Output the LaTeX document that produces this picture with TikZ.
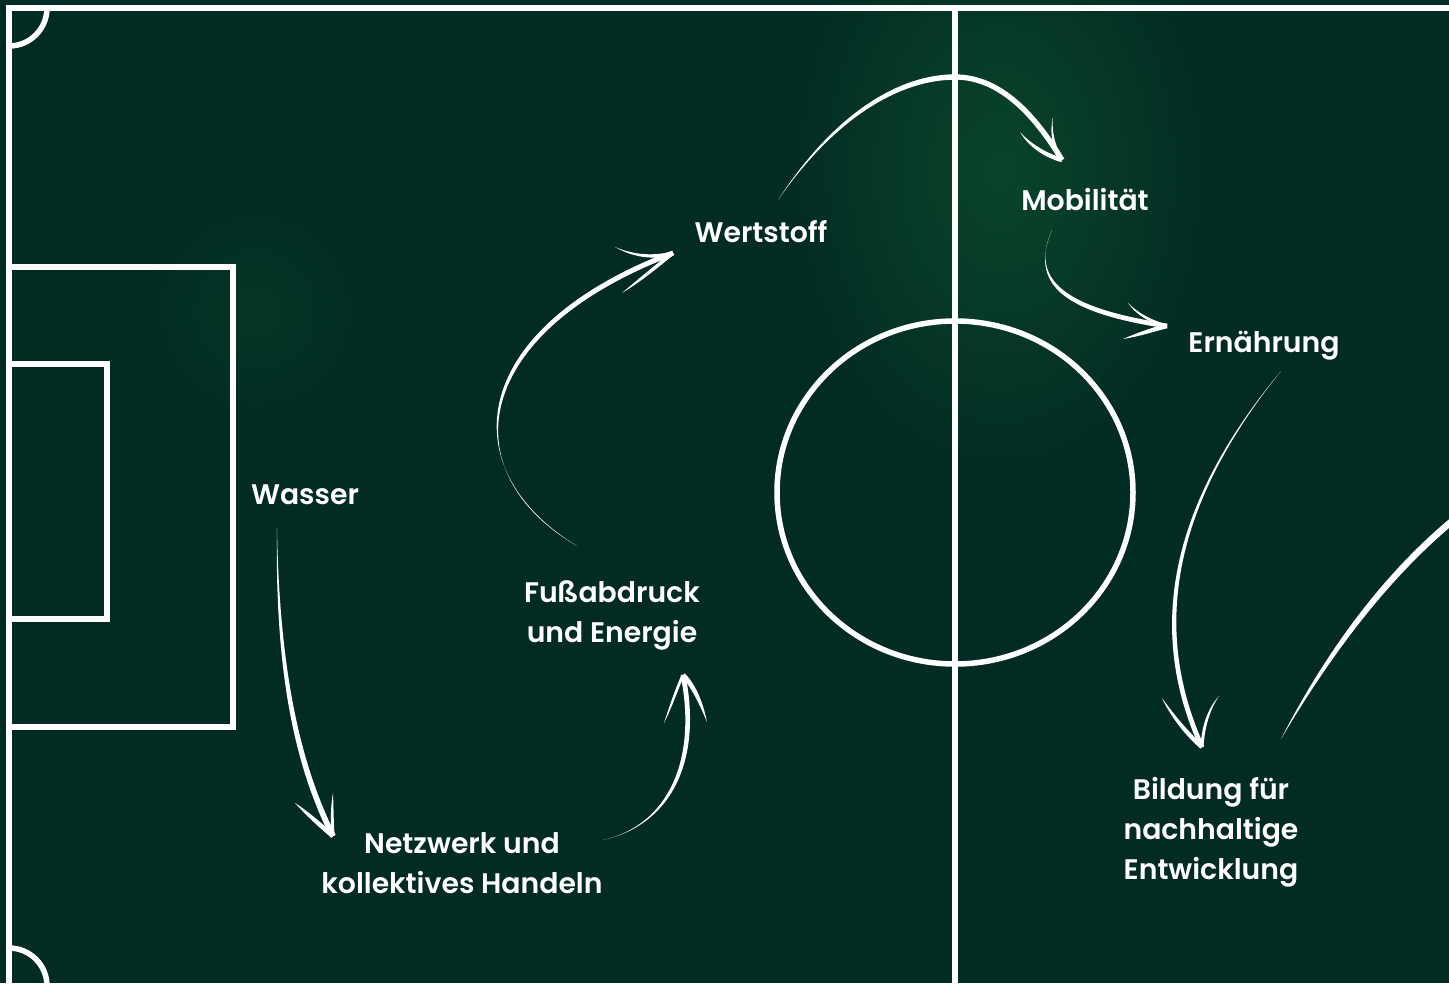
\documentclass[tikz,border=0pt]{standalone}
\usepackage{fontspec}
\setmainfont{Poppins}[BoldFont={Poppins SemiBold}]
\usetikzlibrary{calc}
\definecolor{bg}{RGB}{2,43,35}
\definecolor{glow}{RGB}{10,68,42}
\definecolor{glowb}{RGB}{5,54,38}
\tikzset{
  pitchline/.style={draw=white, line width=5.5pt},
  lbl/.style={text=white, font=\fontsize{28.3}{40}\selectfont\bfseries, align=center, anchor=base, inner sep=0pt},
  brushfill/.style={fill=white},
}
% tapered stroke: start, control 1, control 2, end, half width at end
\newcommand{\brushcurve}[5]{%
  \path ($(#4)!#5!90:(#3)$) coordinate (bA) ($(#4)!#5!-90:(#3)$) coordinate (bB);
  \fill[brushfill] (#1) .. controls ($(#2)+1.0*(bA)-1.0*(#4)$) and ($(#3)+(bA)-(#4)$) .. (bA) -- (bB)
     .. controls ($(#3)+(bB)-(#4)$) and ($(#2)+1.0*(bB)-1.0*(#4)$) .. (#1) -- cycle;}
\begin{document}
\begin{tikzpicture}[x=1pt,y=-1pt]
\useasboundingbox (0,0) rectangle (1449,983);
\clip (0,0) rectangle (1449,983);
\fill[bg] (0,0) rectangle (1449,983);
% soft background glows
\shade[inner color=glow, outer color=bg] (1000,170) ellipse[x radius=220pt, y radius=320pt];
\shade[inner color=glowb, outer color=bg] (255,310) ellipse[x radius=120pt, y radius=120pt];

% pitch
\coordinate (tl) at (9,8);
\coordinate (bl) at (9,986);
\draw[pitchline] (1460,8) -- (tl) -- (9,995);
\draw[pitchline] (955,8) -- (955,995);
\begin{scope}
  \clip (9,8) rectangle (1449,983);
  \draw[pitchline] (tl) circle[radius=38pt];
  \draw[pitchline] (bl) circle[radius=38pt];
\end{scope}
\draw[pitchline] (9,267) -- (233,267) -- (233,727) -- (9,727);
\draw[pitchline] (9,364) -- (107,364) -- (107,619) -- (9,619);
\draw[pitchline] (955,492.5) ellipse[x radius=178pt, y radius=171.5pt];

% labels (anchor = baseline of the last line)
\node[lbl] (wasser) at (305,504) {Wasser};
\node[lbl] (netz) at (462,893) {Netzwerk und\\kollektives Handeln};
\node[lbl] (fuss) at (612,642) {Fußabdruck\\und Energie};
\node[lbl] (wert) at (761,242) {Wertstoff};
\node[lbl] (mob) at (1085,210) {Mobilität};
\node[lbl] (ern) at (1264,352) {Ernährung};
\node[lbl] (bild) at (1211,879) {Bildung für\\nachhaltige\\Entwicklung};

% connector end points
\coordinate (a1s) at (277,528);  \coordinate (a1t) at (333,836);
\coordinate (a2s) at (603,840);  \coordinate (a2t) at (683,675);
\coordinate (a3s) at (577,546);  \coordinate (a3t) at (673,253);
\coordinate (a4s) at (778,200);  \coordinate (a4m) at (955,77); \coordinate (a4t) at (1062,160);
\coordinate (a5s) at (1052,230); \coordinate (a5t) at (1167,326);
\coordinate (a6s) at (1281,371); \coordinate (a6t) at (1202,747);
\coordinate (a7s) at (1281,739); \coordinate (a7e) at (1462,513);

% Wasser -> Netzwerk
\brushcurve{a1s}{277,680}{300,770}{a1t}{2.8pt}
\brushcurve{295,803}{308,814}{321,826}{a1t}{2.3pt}
\brushcurve{333,793}{332,808}{332,822}{a1t}{1.6pt}
% Netzwerk -> Fussabdruck
\brushcurve{a2s}{670,825}{700,760}{a2t}{2.4pt}
\brushcurve{664,723}{671,706}{677,688}{a2t}{1.4pt}
\brushcurve{707,722}{701,702}{693,685}{a2t}{2.4pt}
% Fussabdruck -> Wertstoff
\brushcurve{a3s}{450,470}{470,330}{a3t}{2.5pt}
\brushcurve{615,247}{635,257}{655,258}{a3t}{1.8pt}
\brushcurve{622,293}{640,280}{657,266}{a3t}{1.8pt}
% Wertstoff -> Mobilitaet
\brushcurve{a4s}{835,115}{900,77}{a4m}{2.7pt}
\draw[white, line width=5.3pt] (a4m) .. controls (1000,77) and (1035,115) .. (a4t);
\brushcurve{1020,132}{1030,146}{1047,156}{a4t}{2.2pt}
\brushcurve{1053,117}{1050,134}{1055,150}{a4t}{1.5pt}
% Mobilitaet -> Ernaehrung
\brushcurve{a5s}{1030,280}{1060,310}{a5t}{2.4pt}
\brushcurve{1128,303}{1138,315}{1152,322}{a5t}{1.5pt}
\brushcurve{1123,339}{1140,334}{1155,329}{a5t}{2.2pt}
% Ernaehrung -> Bildung
\brushcurve{a6s}{1200,470}{1135,600}{a6t}{2.4pt}
\brushcurve{1162,698}{1173,717}{1189,736}{a6t}{2.2pt}
\brushcurve{1219,696}{1208,710}{1203,728}{a6t}{1.5pt}
% Bildung -> (off the picture)
\brushcurve{a7s}{1330,650}{1390,570}{a7e}{3.3pt}
\end{tikzpicture}
\end{document}
